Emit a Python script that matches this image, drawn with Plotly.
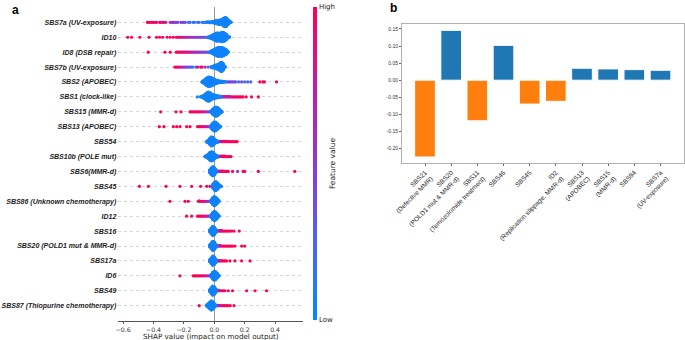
import numpy as np
import plotly.graph_objects as go

# ---------------- panel a: SHAP beeswarm ----------------
features = ["SBS7a (UV-exposure)", "ID10", "ID8 (DSB repair)", "SBS7b (UV-exposure)",
            "SBS2 (APOBEC)", "SBS1 (clock-like)", "SBS15 (MMR-d)", "SBS13 (APOBEC)",
            "SBS54", "SBS10b (POLE mut)", "SBS6(MMR-d)", "SBS45",
            "SBS86 (Unknown chemotherapy)", "ID12", "SBS16", "SBS20 (POLD1 mut & MMR-d)",
            "SBS17a", "ID6", "SBS49", "SBS87 (Thiopurine chemotherapy)"]

# dense low-feature-value cluster of each row: first bin (SHAP value) and counts per 0.01 bin
cluster_start = [-0.05, -0.04, -0.03, -0.02, -0.08, -0.09, -0.02, -0.02, -0.05, -0.06,
                 -0.03, -0.01, -0.02, -0.02, -0.03, -0.03, -0.03, -0.02, -0.03, -0.05]
cluster_counts = [
    [2, 2, 3, 3, 4, 6, 8, 10, 11, 12, 14, 20, 24, 22, 14, 6, 2],
    [3, 5, 8, 12, 16, 20, 22, 20, 22, 24, 24, 20, 14, 6, 2],
    [3, 6, 10, 14, 18, 22, 24, 22, 24, 20, 16, 12, 4],
    [3, 5, 8, 10, 12, 16, 22, 24, 16, 4],
    [3, 8, 14, 20, 24, 24, 22, 18, 14, 10, 8, 6, 5, 4, 3, 2],
    [2, 4, 8, 14, 20, 24, 22, 16, 12, 10, 8, 6, 4, 3],
    [6, 14, 20, 24, 22, 16, 8, 3],
    [10, 18, 24, 22, 16, 8, 3],
    [3, 8, 16, 24, 22, 14, 8, 4],
    [3, 6, 12, 20, 24, 22, 14, 8, 4],
    [8, 18, 24, 20, 10],
    [10, 20, 24, 18, 10, 4],
    [8, 18, 24, 20, 12, 4],
    [8, 18, 24, 20, 12, 4],
    [6, 16, 24, 20, 10],
    [6, 16, 24, 20, 10],
    [6, 16, 24, 20, 10],
    [8, 18, 24, 20, 12, 4],
    [6, 16, 24, 20, 10],
    [4, 10, 18, 24, 20, 10, 4],
]
cluster_feat = 0.05

# scattered tail points: SHAP values and feature values
tail_shap = [
    [-0.44, -0.43, -0.42, -0.41, -0.40, -0.39, -0.38, -0.36, -0.35, -0.34, -0.33, -0.32, -0.29, -0.28, -0.27, -0.26,
     -0.25, -0.24, -0.22, -0.21, -0.20, -0.19, -0.17, -0.16, -0.14, -0.13, -0.11, -0.10, -0.08, -0.07, -0.06],
    [-0.57, -0.545, -0.49, -0.43, -0.38, -0.36, -0.34, -0.31, -0.29, -0.27, -0.25, -0.24, -0.23, -0.22, -0.21, -0.20,
     -0.19, -0.18, -0.17, -0.16, -0.15, -0.14, -0.13, -0.12, -0.11, -0.10, -0.09, -0.08, -0.07, -0.06, -0.05],
    [-0.435, -0.325, -0.29, -0.25, -0.24, -0.23, -0.22, -0.21, -0.20, -0.19, -0.18, -0.17, -0.16, -0.15, -0.14, -0.13,
     -0.12, -0.11, -0.10, -0.09, -0.08, -0.07, -0.06, -0.05, -0.04],
    [-0.26, -0.25, -0.24, -0.23, -0.22, -0.21, -0.20, -0.19, -0.18, -0.17, -0.16, -0.15, -0.14, -0.12, -0.11, -0.09,
     -0.08, -0.06, -0.04],
    [0.08, 0.09, 0.10, 0.11, 0.12, 0.13, 0.14, 0.16, 0.18, 0.20, 0.22, 0.24, 0.30, 0.32, 0.33, 0.41],
    [-0.112, 0.04, 0.05, 0.05, 0.06, 0.06, 0.07, 0.07, 0.08, 0.08, 0.09, 0.09, 0.10, 0.10, 0.11, 0.12, 0.13, 0.14,
     0.15, 0.16, 0.17, 0.18, 0.19, 0.21, 0.245, 0.29],
    [-0.353, -0.252, -0.219, -0.16, -0.15, -0.14, -0.13, -0.12, -0.11, -0.10, -0.09, -0.08, -0.07, -0.06, -0.05,
     -0.04, -0.03],
    [-0.362, -0.331, -0.27, -0.248, -0.226, -0.182, -0.16, -0.11, -0.10, -0.09, -0.08, -0.07, -0.06, -0.05, -0.04,
     -0.03],
    [0.02, 0.03, 0.03, 0.04, 0.04, 0.05, 0.05, 0.06, 0.06, 0.07, 0.07, 0.08, 0.08, 0.09, 0.10, 0.11, 0.12, 0.13,
     0.14, 0.15],
    [0.02, 0.03, 0.03, 0.04, 0.04, 0.05, 0.05, 0.06, 0.06, 0.07, 0.07, 0.08, 0.09, 0.10, 0.11],
    [0.02, 0.02, 0.03, 0.03, 0.04, 0.04, 0.05, 0.05, 0.06, 0.06, 0.07, 0.08, 0.092, 0.12, 0.153, 0.19, 0.20, 0.29,
     0.53],
    [-0.493, -0.434, -0.318, -0.226, -0.149, -0.09, -0.05, -0.029, 0.048],
    [-0.292, -0.193, -0.171, -0.105, -0.10, -0.09, -0.08, -0.07, -0.06, -0.05, -0.04, -0.03],
    [-0.182, -0.149, -0.11, -0.10, -0.09, -0.08, -0.07, -0.06, -0.05, -0.04, -0.03],
    [0.02, 0.02, 0.03, 0.03, 0.04, 0.04, 0.05, 0.05, 0.06, 0.07, 0.08, 0.09, 0.10, 0.114, 0.13, 0.164],
    [0.02, 0.02, 0.03, 0.03, 0.04, 0.04, 0.05, 0.06, 0.07, 0.08, 0.09, 0.10, 0.11, 0.12, 0.136, 0.18, 0.20],
    [0.02, 0.02, 0.03, 0.03, 0.04, 0.04, 0.05, 0.06, 0.07, 0.08, 0.103, 0.136, 0.18, 0.235],
    [-0.226, -0.138, -0.13, -0.12, -0.11, -0.10, -0.09, -0.08, -0.07, -0.06, -0.05, -0.04, -0.03],
    [0.02, 0.02, 0.03, 0.03, 0.04, 0.05, 0.06, 0.07, 0.092, 0.12, 0.213, 0.268, 0.344],
    [-0.099, 0.02, 0.02, 0.03, 0.03, 0.04, 0.05, 0.06, 0.07, 0.08, 0.09, 0.105, 0.13],
]
tail_feat = [
    [1.0, 0.95, 1.0, 0.9, 1.0, 0.85, 1.0, 0.9, 1.0, 0.7, 0.95, 0.8, 0.6, 0.5, 0.7, 0.45,
     0.55, 0.4, 0.6, 0.35, 0.5, 0.3, 0.15, 0.2, 0.1, 0.2, 0.1, 0.15, 0.1, 0.2, 0.1],
    [1, 1, 1, 1, 1, 1, 0.95, 1, 0.9, 1, 1, 0.9, 0.95, 0.8, 0.9, 0.7,
     0.85, 0.6, 0.75, 0.55, 0.65, 0.5, 0.6, 0.45, 0.55, 0.5, 0.4, 0.5, 0.35, 0.45, 0.3],
    [1, 1, 1, 1, 0.95, 1, 0.9, 1, 0.85, 0.95, 0.8, 0.9, 0.7, 0.85, 0.6, 0.75,
     0.55, 0.65, 0.5, 0.6, 0.45, 0.5, 0.4, 0.45, 0.35],
    [1, 0.95, 0.9, 1, 0.7, 0.85, 0.5, 0.6, 0.3, 0.5, 0.2, 0.4, 0.15, 0.3, 0.8, 0.9, 1, 0.6, 0.3],
    [0.5, 0.3, 0.6, 0.2, 0.55, 0.25, 0.45, 0.2, 0.4, 0.15, 0.35, 0.2, 1, 0.95, 1, 1],
    [0.05, 0.5, 0.45, 0.6, 0.5, 0.65, 0.55, 0.7, 0.6, 0.75, 0.65, 0.8, 0.7, 0.85, 0.8, 0.9, 0.85, 0.95,
     0.9, 1, 0.95, 1, 1, 1, 1, 1],
    [1, 1, 1, 1, 1, 0.95, 1, 0.95, 1, 0.9, 0.95, 0.85, 0.8, 0.7, 0.65, 0.55, 0.5],
    [1, 1, 1, 1, 1, 1, 1, 1, 0.95, 1, 0.9, 0.85, 0.8, 0.7, 0.6, 0.5],
    [0.5, 0.55, 0.65, 0.6, 0.75, 0.7, 0.85, 0.8, 0.9, 0.85, 0.95, 0.9, 1, 0.95, 1, 1, 0.9, 1, 1, 1],
    [0.5, 0.6, 0.7, 0.75, 0.85, 0.8, 0.9, 0.95, 1, 0.9, 1, 1, 0.95, 1, 1],
    [0.5, 0.6, 0.55, 0.7, 0.65, 0.8, 0.75, 0.9, 0.85, 1, 0.95, 1, 1, 1, 0.55, 1, 1, 1, 1],
    [1, 1, 1, 1, 1, 1, 1, 0.9, 0.05],
    [1, 1, 1, 1, 0.95, 1, 0.9, 0.95, 0.8, 0.7, 0.6, 0.5],
    [1, 1, 1, 1, 0.95, 1, 0.9, 0.85, 0.75, 0.65, 0.5],
    [0.5, 0.65, 0.6, 0.75, 0.7, 0.85, 0.8, 0.95, 0.9, 1, 0.95, 1, 1, 1, 1, 1],
    [0.5, 0.6, 0.65, 0.7, 0.75, 0.8, 0.85, 0.9, 1, 0.95, 1, 1, 1, 0.95, 1, 1, 1],
    [0.5, 0.6, 0.65, 0.75, 0.8, 0.85, 0.9, 0.95, 1, 1, 1, 1, 1, 1],
    [1, 1, 1, 1, 1, 0.95, 1, 0.9, 0.95, 0.85, 0.75, 0.65, 0.5],
    [0.5, 0.65, 0.7, 0.8, 0.85, 0.9, 1, 0.95, 1, 1, 1, 1, 1],
    [1, 0.5, 0.6, 0.65, 0.75, 0.8, 0.85, 0.9, 1, 0.95, 1, 1, 1],
]

shap_ticks = [-0.6, -0.4, -0.2, 0.0, 0.2, 0.4]
shap_ticktext = ["\u22120.6", "\u22120.4", "\u22120.2", "0.0", "0.2", "0.4"]
shap_xtitle = "SHAP value (impact on model output)"

# ---------------- panel b: bar chart ----------------
bar_labels = ["SBS21<br>(Defective MMR)", "SBS20<br>(POLD1 mut & MMR-d)", "SBS11<br>(Temozolomide treatment)",
              "SBS46", "SBS45", "ID2<br>(Replication slippage, MMR-d)", "SBS13<br>(APOBEC)",
              "SBS15<br>(MMR-d)", "SBS94", "SBS7a<br>(UV-exposure)"]
bar_values = [-0.225, 0.146, -0.119, 0.102, -0.070, -0.062, 0.035, 0.033, 0.031, 0.029]
bar_ticks = [0.15, 0.10, 0.05, 0.00, -0.05, -0.10, -0.15, -0.20]
bar_ticktext = ["0.15", "0.10", "0.05", "0.00", "-0.05", "-0.10", "-0.15", "-0.20"]


def swarm_offsets(vals, bin_w=0.01, height=0.32):
    vals = np.asarray(vals, dtype=float)
    q = np.round(vals / bin_w).astype(int)
    order = np.argsort(q, kind="stable")
    ys = np.zeros(len(vals))
    layer, last = 0, None
    for i in order:
        if q[i] != last:
            layer = 0
        ys[i] = np.ceil(layer / 2) * ((layer % 2) * 2 - 1)
        layer += 1
        last = q[i]
    m = np.max(np.abs(ys))
    if m > 0:
        ys *= height / m
    return ys


xs, ys, cs = [], [], []
n = len(features)
for i in range(n):
    cvals = [cluster_start[i] + 0.01 * k for k, c in enumerate(cluster_counts[i]) for _ in range(c)]
    vals = list(tail_shap[i]) + cvals
    feats = list(tail_feat[i]) + [cluster_feat] * len(cvals)
    off = swarm_offsets(vals)
    row_y = n - 1 - i
    xs += vals
    ys += list(row_y + off)
    cs += feats

W, H = 685, 340
red_blue = [[0.0, "#008bfb"], [0.25, "#4f63f2"], [0.5, "#8a3ad9"], [0.75, "#c41aa4"], [1.0, "#ff0052"]]

fig = go.Figure()
fig.add_trace(go.Scatter(
    x=xs, y=ys, mode="markers", xaxis="x", yaxis="y", showlegend=False, hoverinfo="skip",
    marker=dict(size=3.2, color=cs, cmin=0, cmax=1, colorscale=red_blue, line=dict(width=0),
                colorbar=dict(x=313 / W, xanchor="left", y=1 - 163.5 / H, yanchor="middle",
                              len=313 / H, lenmode="fraction", thickness=4, thicknessmode="pixels",
                              outlinewidth=0, xpad=0, ypad=0, tickvals=[0, 1], ticktext=["Low", "High"],
                              ticks="",
                              tickfont=dict(family="DejaVu Sans", size=7, color="#222"),
                              title=dict(text="Feature value", side="right",
                                         font=dict(family="DejaVu Sans", size=7.5, color="#222"))))
))

bar_colors = ["#ff7f0e" if v < 0 else "#1f77b4" for v in bar_values]
fig.add_trace(go.Bar(
    x=list(range(len(bar_values))), y=bar_values, xaxis="x2", yaxis="y2", width=0.79,
    marker=dict(color=bar_colors, line=dict(color="white", width=1)), showlegend=False, hoverinfo="skip"))

fig.update_layout(
    width=W, height=H, margin=dict(l=0, r=0, t=0, b=0, autoexpand=False),
    paper_bgcolor="white", plot_bgcolor="white",
    xaxis=dict(domain=[118.3 / W, 302.7 / W], anchor="y", range=[-0.632, 0.582], tickvals=shap_ticks,
               ticktext=shap_ticktext, showgrid=False, zeroline=True, zerolinecolor="#999",
               zerolinewidth=1, showline=True, linecolor="#555", linewidth=1, ticks="outside",
               ticklen=2.5, tickcolor="#555", automargin=False,
               tickfont=dict(family="DejaVu Sans", size=6.2, color="#333")),
    yaxis=dict(domain=[1 - 320.6 / H, 1 - 7.4 / H], anchor="x", range=[-1, n], tickvals=list(range(n)),
               ticktext=features[::-1], showgrid=True, griddash="dot", gridcolor="#d4d4d4",
               gridwidth=0.8, zeroline=False, showline=False, ticks="", ticklabelstandoff=1,
               automargin=False,
               tickfont=dict(family="Liberation Sans", size=7, color="#222", weight="bold",
                             style="italic")),
    xaxis2=dict(domain=[402 / W, 684 / W], anchor="y2", range=[-0.879, 9.898],
                tickvals=list(range(len(bar_labels))), automargin=False,
                ticktext=bar_labels, tickangle=-45, showgrid=False, zeroline=False, showline=True,
                mirror=True, linecolor="#b0b0b0", linewidth=1, ticks="outside", ticklen=2,
                tickcolor="#666", tickfont=dict(family="Liberation Sans", size=6.5, color="#222")),
    yaxis2=dict(domain=[1 - 163.3 / H, 1 - 23.7 / H], anchor="x2", range=[-0.2435, 0.1655],
                tickvals=bar_ticks, automargin=False,
                ticktext=bar_ticktext, showgrid=False, zeroline=False, showline=True, mirror=True,
                linecolor="#b0b0b0", linewidth=1, ticks="outside", ticklen=2, tickcolor="#666",
                tickfont=dict(family="Liberation Sans", size=5, color="#333")),
    annotations=[
        dict(text=shap_xtitle, x=(118.3 + 302.7) / 2 / W, y=1 - 336.8 / H, xref="paper", yref="paper",
             showarrow=False, xanchor="center", yanchor="middle",
             font=dict(family="DejaVu Sans", size=7.2, color="#222")),
        dict(text="<b>a</b>", x=15 / W, y=1 - 10 / H, xref="paper", yref="paper", showarrow=False,
             xanchor="center", yanchor="middle", font=dict(family="Liberation Sans", size=12, color="black")),
        dict(text="<b>b</b>", x=393 / W, y=1 - 8 / H, xref="paper", yref="paper", showarrow=False,
             xanchor="center", yanchor="middle", font=dict(family="Liberation Sans", size=12, color="black")),
    ],
)

fig.write_html("out.html", config={"displayModeBar": False},
               post_script="document.body.style.margin='0px';")
